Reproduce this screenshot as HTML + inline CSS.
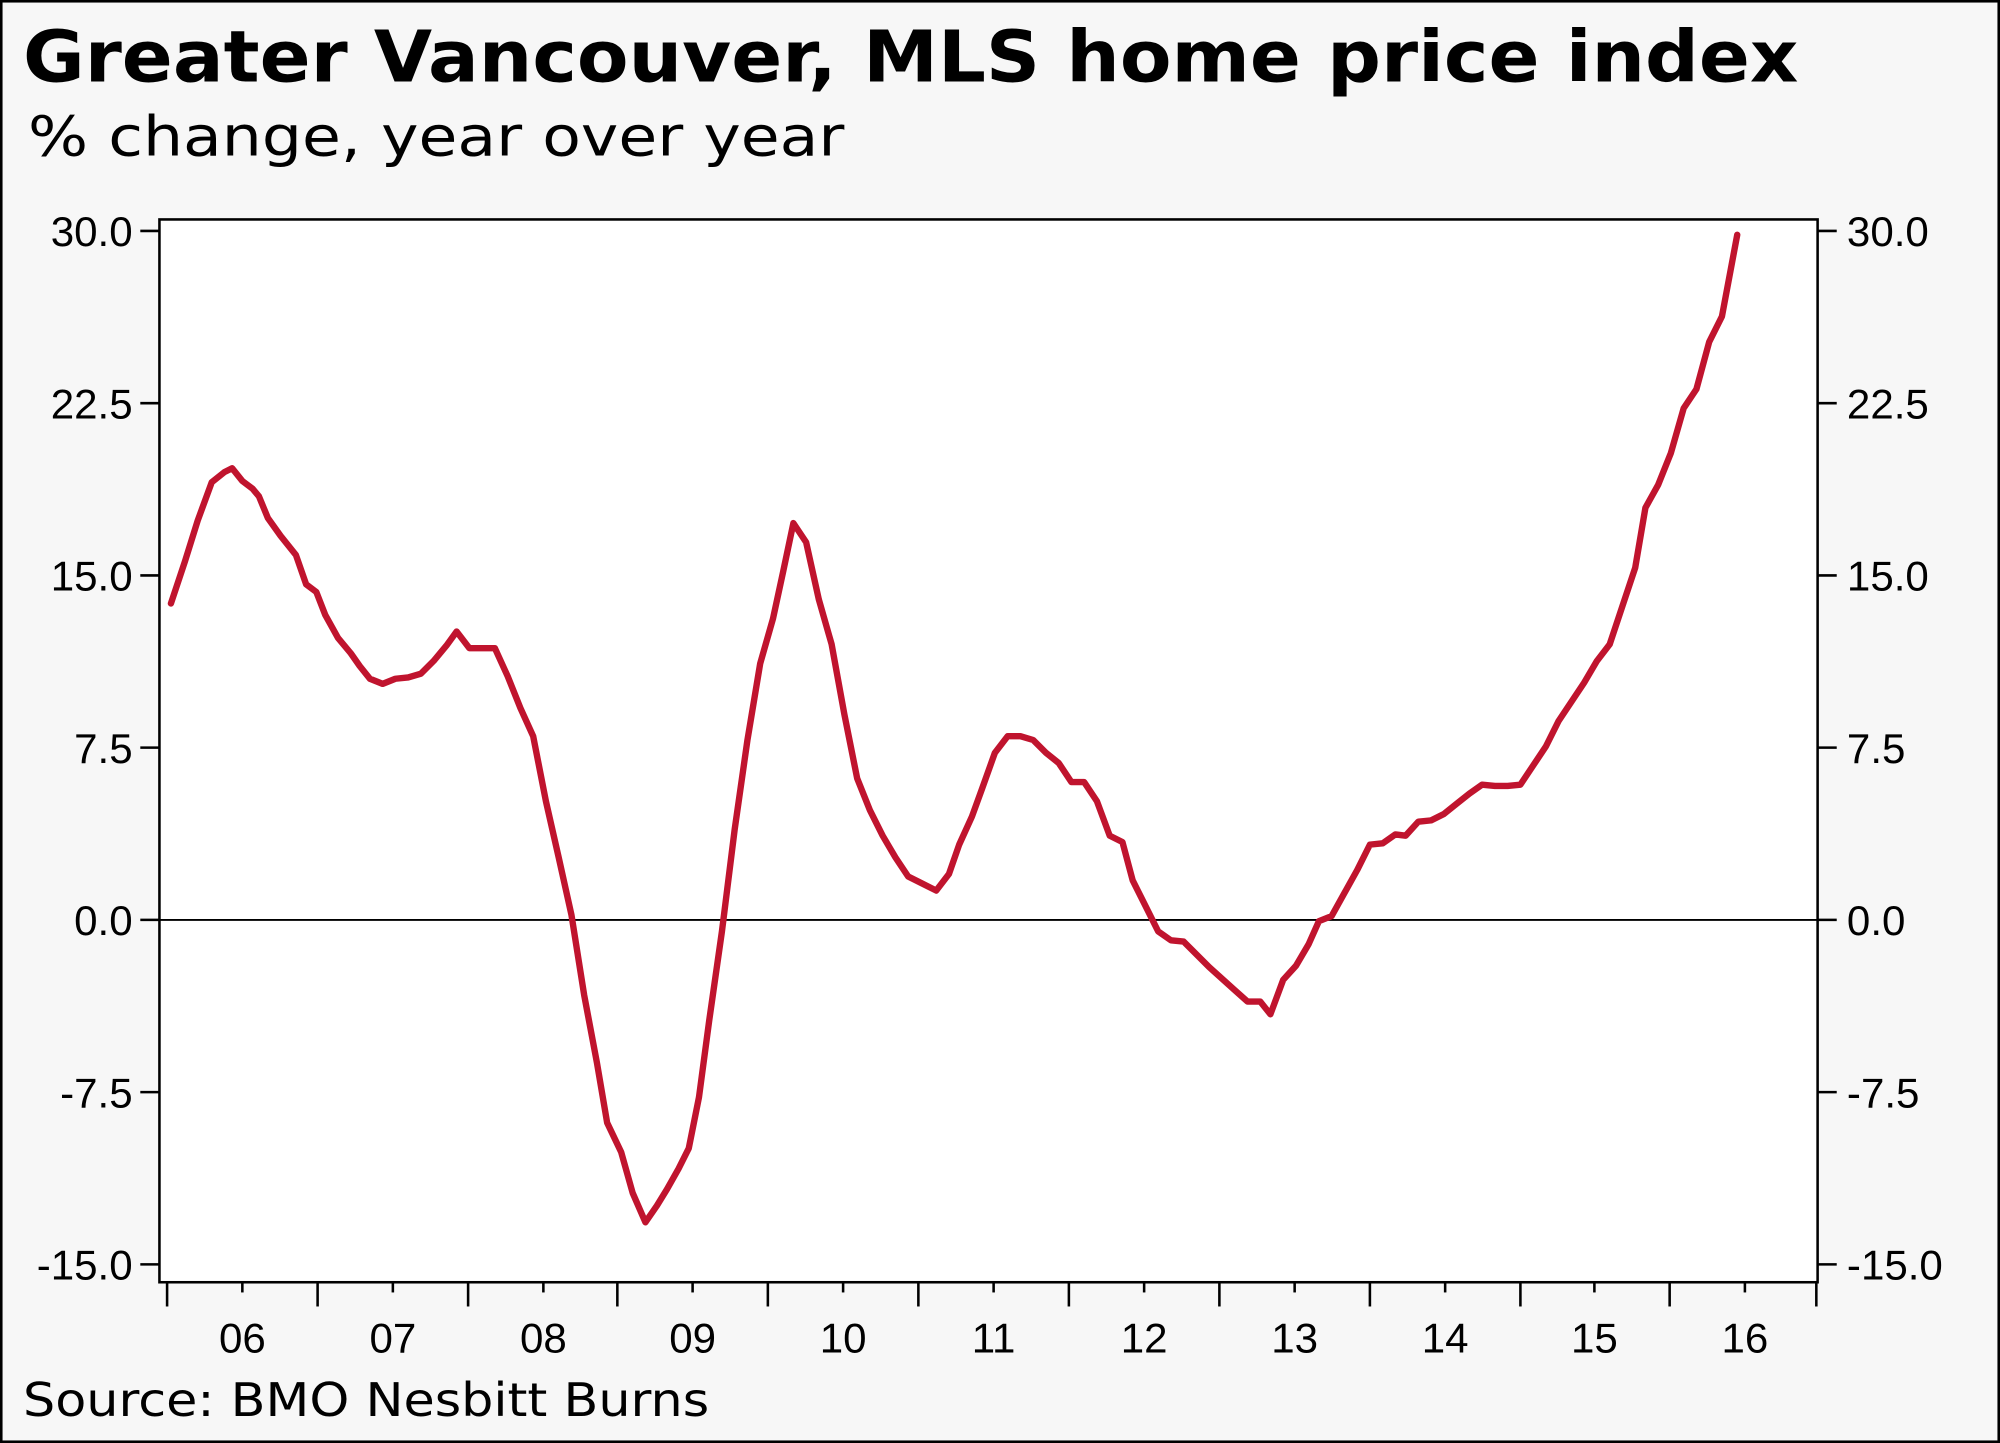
<!DOCTYPE html>
<html><head><meta charset="utf-8"><style>
html,body{margin:0;padding:0;background:#f7f7f7;}
svg{display:block;}
</style></head><body>
<svg width="2000" height="1443" viewBox="0 0 1568 1131" preserveAspectRatio="none" xmlns="http://www.w3.org/2000/svg" font-family="'DejaVu Sans','Liberation Sans',sans-serif">
<rect x="1" y="1" width="1566" height="1129" fill="#f7f7f7" stroke="#000" stroke-width="2"/>
<text x="18" y="64" font-size="56" font-weight="bold" textLength="1392" lengthAdjust="spacingAndGlyphs">Greater Vancouver, MLS home price index</text>
<text x="22" y="122" font-size="43" textLength="640" lengthAdjust="spacingAndGlyphs">% change, year over year</text>
<rect x="125" y="172" width="1300" height="833" fill="#fff" stroke="#000" stroke-width="2"/>
<line x1="125" y1="721" x2="1425" y2="721" stroke="#000" stroke-width="1.5"/>
<g stroke="#000" stroke-width="2">
<line x1="110" y1="181" x2="125" y2="181"/><line x1="110" y1="316" x2="125" y2="316"/><line x1="110" y1="451" x2="125" y2="451"/><line x1="110" y1="586" x2="125" y2="586"/><line x1="110" y1="721" x2="125" y2="721"/><line x1="110" y1="856" x2="125" y2="856"/><line x1="110" y1="991" x2="125" y2="991"/>
<line x1="1425" y1="181" x2="1440" y2="181"/><line x1="1425" y1="316" x2="1440" y2="316"/><line x1="1425" y1="451" x2="1440" y2="451"/><line x1="1425" y1="586" x2="1440" y2="586"/><line x1="1425" y1="721" x2="1440" y2="721"/><line x1="1425" y1="856" x2="1440" y2="856"/><line x1="1425" y1="991" x2="1440" y2="991"/>
<line x1="131" y1="1005" x2="131" y2="1024"/><line x1="249" y1="1005" x2="249" y2="1024"/><line x1="367" y1="1005" x2="367" y2="1024"/><line x1="484" y1="1005" x2="484" y2="1024"/><line x1="602" y1="1005" x2="602" y2="1024"/><line x1="720" y1="1005" x2="720" y2="1024"/><line x1="838" y1="1005" x2="838" y2="1024"/><line x1="956" y1="1005" x2="956" y2="1024"/><line x1="1074" y1="1005" x2="1074" y2="1024"/><line x1="1192" y1="1005" x2="1192" y2="1024"/><line x1="1309" y1="1005" x2="1309" y2="1024"/><line x1="1424" y1="1005" x2="1424" y2="1024"/>
<line x1="190" y1="1005" x2="190" y2="1013"/><line x1="308" y1="1005" x2="308" y2="1013"/><line x1="426" y1="1005" x2="426" y2="1013"/><line x1="543" y1="1005" x2="543" y2="1013"/><line x1="661" y1="1005" x2="661" y2="1013"/><line x1="779" y1="1005" x2="779" y2="1013"/><line x1="897" y1="1005" x2="897" y2="1013"/><line x1="1015" y1="1005" x2="1015" y2="1013"/><line x1="1133" y1="1005" x2="1133" y2="1013"/><line x1="1250" y1="1005" x2="1250" y2="1013"/><line x1="1368" y1="1005" x2="1368" y2="1013"/>
</g>
<g font-size="33" font-family="'Liberation Sans',sans-serif" text-anchor="end">
<text x="104" y="193">30.0</text><text x="104" y="328">22.5</text><text x="104" y="463">15.0</text><text x="104" y="598">7.5</text><text x="104" y="733">0.0</text><text x="104" y="868">-7.5</text><text x="104" y="1003">-15.0</text>
</g>
<g font-size="33" font-family="'Liberation Sans',sans-serif">
<text x="1448" y="193">30.0</text><text x="1448" y="328">22.5</text><text x="1448" y="463">15.0</text><text x="1448" y="598">7.5</text><text x="1448" y="733">0.0</text><text x="1448" y="868">-7.5</text><text x="1448" y="1003">-15.0</text>
</g>
<g font-size="33" font-family="'Liberation Sans',sans-serif" text-anchor="middle">
<text x="190" y="1060">06</text><text x="308" y="1060">07</text><text x="426" y="1060">08</text><text x="543" y="1060">09</text><text x="661" y="1060">10</text><text x="779" y="1060">11</text><text x="897" y="1060">12</text><text x="1015" y="1060">13</text><text x="1133" y="1060">14</text><text x="1250" y="1060">15</text><text x="1368" y="1060">16</text>
</g>
<polyline fill="none" stroke="#c0142e" stroke-width="5" stroke-linejoin="round" stroke-linecap="round" points="134,473 145,440 155,408 166,378 176,370 182,367 190,377 198,383 203,389 210,406 220,420 232,435 240,458 248,464 255,482 265,500 275,512 282,522 290,532 300,536 310,532 320,531 330,528 340,518 350,506 358,495 368,508 378,508 388,508 398,530 408,555 418,577 428,628 438,672 448,717 458,780 468,833 476,880 487,903 496,935 506,958 515,945 523,932 532,916 540,900 548,860 556,800 566,730 576,650 586,580 596,520 606,485 614,448 622,410 632,425 642,470 652,505 662,560 672,610 682,635 692,655 702,672 712,687 722,692 734,698 744,685 752,662 762,640 770,618 780,590 790,577 800,577 810,580 820,590 830,598 840,613 850,613 860,628 870,655 880,660 888,690 898,710 908,730 918,737 928,738 938,748 948,758 958,767 968,776 978,785 988,785 996,795 1006,768 1016,757 1026,740 1034,722 1044,718 1054,700 1064,682 1074,662 1084,661 1094,654 1102,655 1112,644 1122,643 1132,638 1142,630 1152,622 1162,615 1172,616 1182,616 1192,615 1202,600 1212,585 1222,565 1232,550 1242,535 1252,518 1262,505 1272,475 1282,445 1290,398 1300,380 1310,355 1320,320 1330,305 1340,268 1350,248 1362,184"/>
<text x="18" y="1110" font-size="36" textLength="538" lengthAdjust="spacingAndGlyphs">Source: BMO Nesbitt Burns</text>
</svg>
</body></html>
